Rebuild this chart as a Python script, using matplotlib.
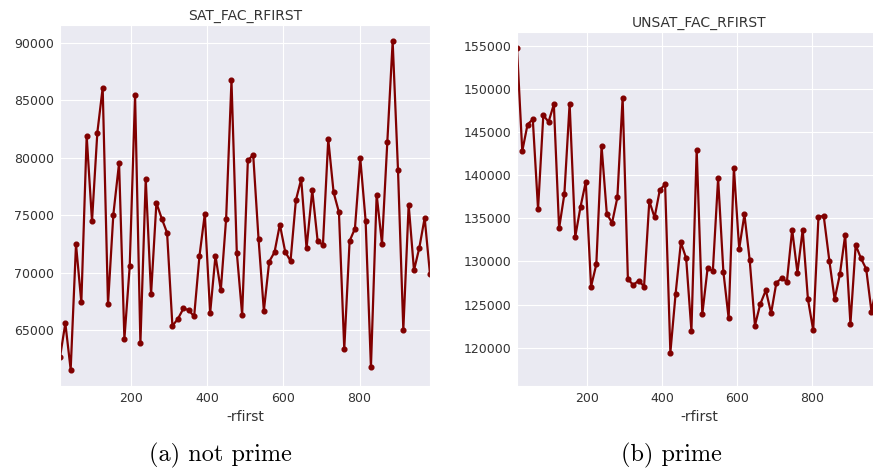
import matplotlib
matplotlib.use("Agg")
import matplotlib.pyplot as plt
import seaborn as sns

# -rfirst values shared by both runs
rfirst = [14, 28, 42, 56, 70, 84, 98, 112, 126, 140, 154, 169, 183, 197, 211,
          225, 239, 253, 267, 281, 295, 309, 323, 338, 352, 366, 380, 394, 408,
          422, 436, 450, 464, 478, 492, 507, 521, 535, 549, 563, 577, 591, 605,
          619, 633, 647, 661, 676, 690, 704, 718, 732, 746, 760, 774, 788, 802,
          816, 830, 845, 859, 873, 887, 901, 915, 929, 943, 957, 971, 985]

sat_fac = [62630, 65600, 61560, 72450, 67400, 81890, 74470, 82180, 86070, 67250,
           75050, 79520, 64220, 70570, 85410, 63870, 78130, 68120, 76060, 74700,
           73460, 65370, 65950, 66880, 66730, 66180, 71440, 75100, 66470, 71470,
           68460, 74700, 86710, 71730, 66330, 79750, 80240, 72940, 66670, 70950,
           71780, 74180, 71810, 71000, 76290, 78130, 72100, 77150, 72790, 72390,
           81600, 76980, 75250, 63350, 72740, 73830, 79950, 74530, 61770, 76780,
           72510, 81370, 90110, 78940, 65030, 75910, 70200, 72160, 74760, 69850]

unsat_fac = [154800, 142820, 145910, 146530, 136090, 147000, 146220, 148270,
             133850, 137830, 148350, 132880, 136360, 139260, 127080, 129670,
             143400, 135510, 134510, 137440, 149050, 127970, 127270, 127780,
             127080, 137020, 135120, 138330, 138950, 119420, 126270, 132220,
             130370, 121940, 142970, 123870, 129210, 128900, 139650, 128820,
             123410, 140890, 131450, 135470, 130170, 122560, 125030, 126660,
             123990, 127540, 128050, 127660, 133690, 128700, 133690, 125610,
             122010, 135200, 135280, 130060, 125610, 128510, 133070, 122750,
             131910, 130370, 129130, 124180, 127300, 117400]

panels = [
    ("SAT_FAC_RFIRST", sat_fac, "(a) not prime"),
    ("UNSAT_FAC_RFIRST", unsat_fac, "(b) prime"),
]

sns.set_style("darkgrid")
plt.rcParams["font.family"] = ["DejaVu Sans"]

W, H = 873, 474
fig = plt.figure(figsize=(W / 100, H / 100), dpi=100)

# axes boxes in pixels: left, top, right, bottom
boxes = [(60, 25, 430, 386), (517, 32, 882, 386)]
caption_x = [220, 671]

for (title, values, caption), (l, t, r, b), cx in zip(panels, boxes, caption_x):
    ax = fig.add_axes([l / W, 1 - b / H, (r - l) / W, (b - t) / H])
    ax.plot(rfirst, values, color="#800000", linewidth=1.6,
            marker="o", markersize=3.4)
    ax.margins(x=0)
    ax.set_xticks([200, 400, 600, 800])
    ax.tick_params(labelsize=9, colors="#333333", length=0, pad=4)
    ax.set_title(title, fontsize=10, color="#333333", pad=4)
    ax.set_xlabel("-rfirst", fontsize=10, color="#333333", labelpad=4)
    fig.text(cx / W, 1 - 455 / H, caption, fontsize=17.5,
             family="cmr10", ha="center", va="center", color="black")

fig.savefig("out.png", dpi=100)
